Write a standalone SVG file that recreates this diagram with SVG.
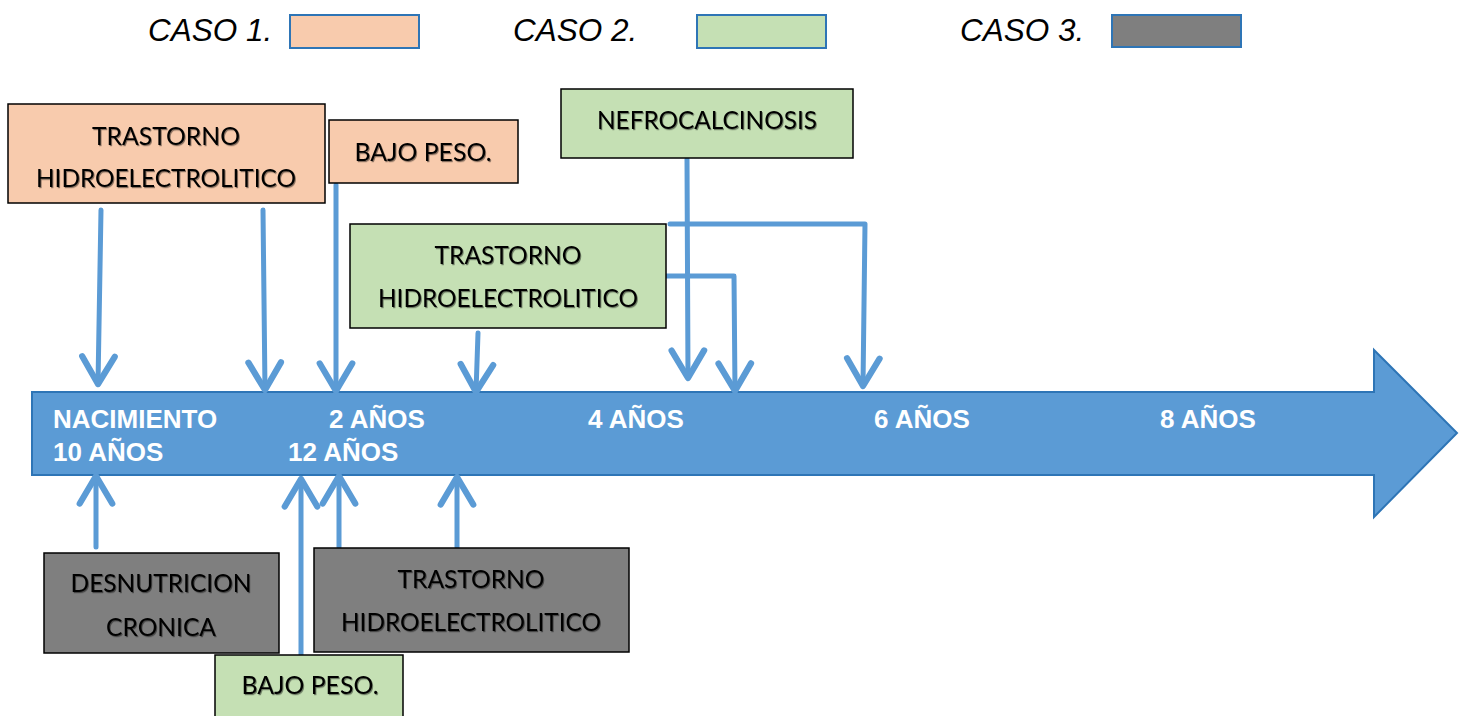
<svg xmlns="http://www.w3.org/2000/svg" width="1463" height="716" viewBox="0 0 1463 716">
  <defs>
    <marker id="head" markerUnits="userSpaceOnUse" markerWidth="40" markerHeight="40" viewBox="-25 -16 30 32" refX="0" refY="0" orient="auto" overflow="visible">
      <path d="M-22,-13 L0,0 L-22,13" fill="none" stroke="#5B9BD5" stroke-width="5" stroke-linecap="round" stroke-linejoin="round"/>
    </marker>
    <filter id="shadow" x="-10%" y="-30%" width="120%" height="160%">
      <feDropShadow dx="1" dy="1.2" stdDeviation="0.7" flood-color="#000" flood-opacity="0.45"/>
    </filter>
  </defs>
  <style>
    .legend { font-family: "Liberation Sans", Arial, sans-serif; font-style: italic; font-size: 31.5px; fill: #000; }
    .swatch { stroke: #2E75B6; stroke-width: 2; }
    .box { stroke: #000; stroke-width: 1.5; }
    .c1 { fill: #F8CBAD; }
    .c2 { fill: #C5E0B4; }
    .c3 { fill: #7F7F7F; }
    .label { font-family: Lato, "Open Sans", sans-serif; font-size: 25px; fill: #000; text-anchor: middle; filter: url(#shadow); }
    .tl { font-family: "Liberation Sans", Arial, sans-serif; font-weight: bold; font-size: 26px; fill: #fff; }
    .conn { fill: none; stroke: #5B9BD5; stroke-width: 5; stroke-linecap: round; stroke-linejoin: round; marker-end: url(#head); }
  </style>

  <!-- legend -->
  <g id="legend">
    <text class="legend" x="148" y="41">CASO 1.</text>
    <rect class="swatch c1" x="290" y="15" width="129" height="33"/>
    <text class="legend" x="513" y="41">CASO 2.</text>
    <rect class="swatch c2" x="697" y="15" width="129" height="33"/>
    <text class="legend" x="960" y="41">CASO 3.</text>
    <rect class="swatch c3" x="1112" y="15" width="129" height="32"/>
  </g>

  <!-- timeline arrow -->
  <g id="timeline">
    <path d="M32,392 H1374 V350 L1457,433 L1374,517 V475 H32 Z" fill="#5B9BD5" stroke="#2E75B6" stroke-width="2"/>
    <text class="tl" x="53" y="428">NACIMIENTO</text>
    <text class="tl" x="53" y="461">10 AÑOS</text>
    <text class="tl" x="329" y="428">2 AÑOS</text>
    <text class="tl" x="288" y="461">12 AÑOS</text>
    <text class="tl" x="588" y="428">4 AÑOS</text>
    <text class="tl" x="874" y="428">6 AÑOS</text>
    <text class="tl" x="1160" y="428">8 AÑOS</text>
  </g>

  <!-- connectors -->
  <g id="connectors">
    <path class="conn" d="M101,210 L98,384"/>
    <path class="conn" d="M263,210 L265,390"/>
    <path class="conn" d="M336,185 L336,391"/>
    <path class="conn" d="M478,333 L476,392"/>
    <path class="conn" d="M670,224 H865 L863,386"/>
    <path class="conn" d="M665,276 H734 L735,391"/>
    <path class="conn" d="M687,159 L688,378"/>
    <path class="conn" d="M96,547 L96,476"/>
    <path class="conn" d="M301,655 L301,479"/>
    <path class="conn" d="M339,547 L339,476"/>
    <path class="conn" d="M457,547 L457,477"/>
  </g>

  <!-- caso 1 -->
  <g id="c1-trastorno">
    <rect class="box c1" x="8" y="104" width="317" height="99"/>
    <text class="label" x="166" y="145" textLength="148" lengthAdjust="spacingAndGlyphs">TRASTORNO</text>
    <text class="label" x="166" y="187" textLength="260" lengthAdjust="spacingAndGlyphs">HIDROELECTROLITICO</text>
  </g>
  <g id="c1-bajo-peso">
    <rect class="box c1" x="329" y="120" width="189" height="63"/>
    <text class="label" x="423" y="161" textLength="137" lengthAdjust="spacingAndGlyphs">BAJO PESO.</text>
  </g>

  <!-- caso 2 -->
  <g id="c2-nefrocalcinosis">
    <rect class="box c2" x="561" y="89" width="292" height="69"/>
    <text class="label" x="707" y="129" textLength="220" lengthAdjust="spacingAndGlyphs">NEFROCALCINOSIS</text>
  </g>
  <g id="c2-trastorno">
    <rect class="box c2" x="350" y="224" width="316" height="104"/>
    <text class="label" x="508" y="264" textLength="147" lengthAdjust="spacingAndGlyphs">TRASTORNO</text>
    <text class="label" x="508" y="307" textLength="260" lengthAdjust="spacingAndGlyphs">HIDROELECTROLITICO</text>
  </g>
  <g id="c2-bajo-peso">
    <rect class="box c2" x="215" y="655" width="188" height="70"/>
    <text class="label" x="310" y="694" textLength="137" lengthAdjust="spacingAndGlyphs">BAJO PESO.</text>
  </g>

  <!-- caso 3 -->
  <g id="c3-desnutricion">
    <rect class="box c3" x="44" y="553" width="235" height="100"/>
    <text class="label" x="161" y="592" textLength="181" lengthAdjust="spacingAndGlyphs">DESNUTRICION</text>
    <text class="label" x="161" y="636" textLength="110" lengthAdjust="spacingAndGlyphs">CRONICA</text>
  </g>
  <g id="c3-trastorno">
    <rect class="box c3" x="314" y="548" width="315" height="104"/>
    <text class="label" x="471" y="588" textLength="147" lengthAdjust="spacingAndGlyphs">TRASTORNO</text>
    <text class="label" x="471" y="631" textLength="260" lengthAdjust="spacingAndGlyphs">HIDROELECTROLITICO</text>
  </g>
</svg>
